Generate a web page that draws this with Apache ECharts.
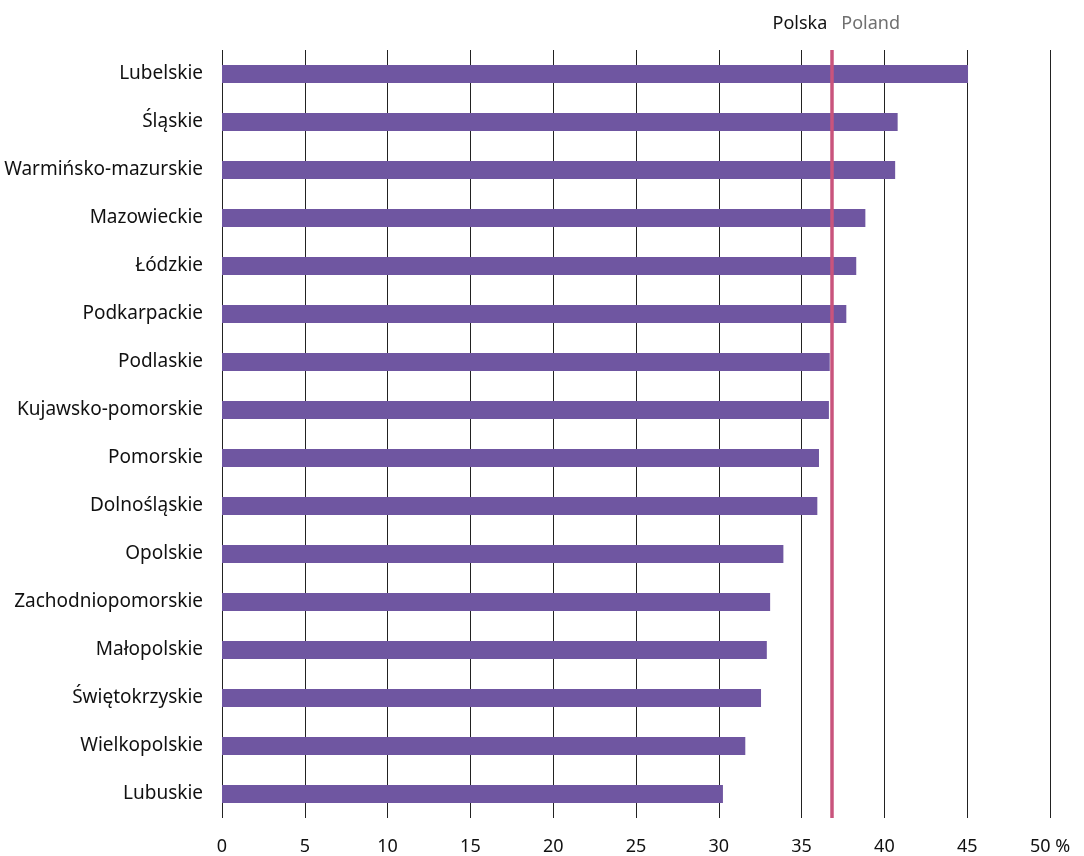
<!DOCTYPE html>
<html>
<head>
<meta charset="utf-8">
<script src="https://cdn.jsdelivr.net/npm/echarts@6/dist/echarts.min.js"></script>
<style>
html,body{margin:0;padding:0;background:#fff;}
#chart{width:1084px;height:856px;}
</style>
</head>
<body>
<div id="chart"></div>
<script>
const categories = ["Lubelskie","Śląskie","Warmińsko-mazurskie","Mazowieckie","Łódzkie","Podkarpackie","Podlaskie","Kujawsko-pomorskie","Pomorskie","Dolnośląskie","Opolskie","Zachodniopomorskie","Małopolskie","Świętokrzyskie","Wielkopolskie","Lubuskie"];
const values = [45.05, 40.8, 40.65, 38.85, 38.3, 37.7, 36.7, 36.65, 36.05, 35.95, 33.9, 33.1, 32.9, 32.55, 31.6, 30.25];
const polandValue = 36.85;
const polandLabelPl = "Polska";
const polandLabelEn = "Poland";
const xTicks = [0,5,10,15,20,25,30,35,40,45,50];

const FONT = '"Noto Sans", sans-serif';
const chart = echarts.init(document.getElementById('chart'), null, {renderer:'canvas'});
chart.setOption({
  animation:false,
  backgroundColor:'#fff',
  grid:{left:222, right:34, top:50, bottom:37, containLabel:false},
  xAxis:{
    type:'value', min:xTicks[0], max:xTicks[xTicks.length-1], interval:xTicks[1]-xTicks[0],
    axisLine:{show:false}, axisTick:{show:false},
    splitLine:{show:true, lineStyle:{color:'#222', width:1}},
    axisLabel:{
      color:'#111', fontFamily:FONT, fontSize:18, margin:20,
      formatter:function(v){ return v===50 ? '50 %' : String(v); }
    }
  },
  yAxis:{
    type:'category', data:categories, inverse:true,
    axisLine:{show:false}, axisTick:{show:false}, splitLine:{show:false},
    axisLabel:{color:'#111', fontFamily:FONT, fontSize:19, margin:19}
  },
  series:[{
    type:'bar', data:values, barWidth:18,
    itemStyle:{color:'#6f56a1'},
    markLine:{
      symbol:'none', silent:true,
      lineStyle:{color:'#c9547c', width:3.5, type:'solid'},
      label:{
        show:true, position:'start', distance:17, offset:[4,0],
        formatter:'{a|' + polandLabelPl + '}{b|' + polandLabelEn + '}',
        rich:{
          a:{color:'#111', fontFamily:FONT, fontSize:18, padding:[0,14,0,0]},
          b:{color:'#707070', fontFamily:FONT, fontSize:18}
        }
      },
      data:[{xAxis:polandValue}]
    }
  }]
});
</script>
</body>
</html>
